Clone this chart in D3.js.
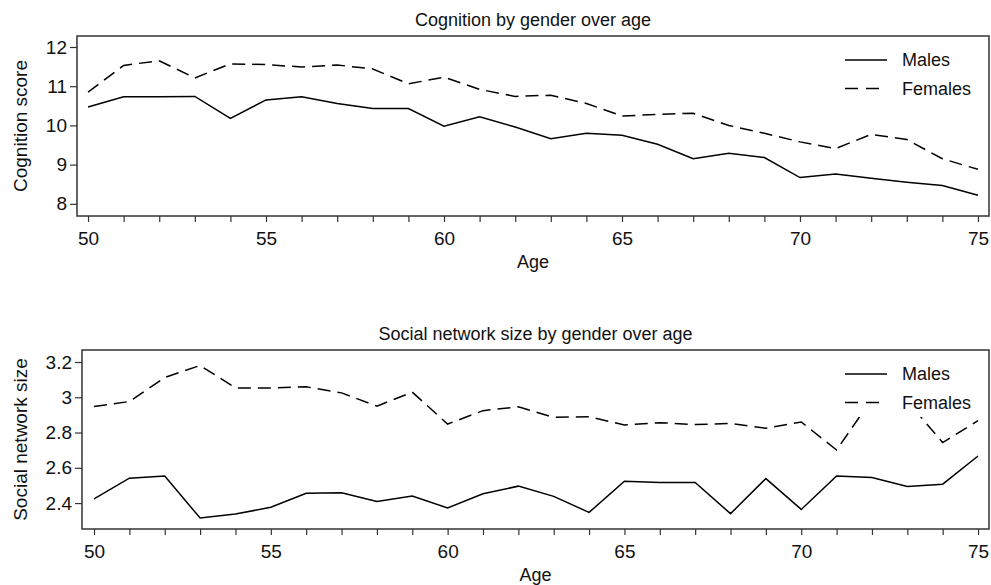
<!DOCTYPE html>
<html>
<head>
<meta charset="utf-8">
<script src="https://cdnjs.cloudflare.com/ajax/libs/d3/7.8.5/d3.min.js"></script>
<style>
  body { margin: 0; background: #fff; }
  svg { display: block; font-family: "Liberation Sans", Arial, sans-serif; }
</style>
</head>
<body>
<svg id="chart" width="991" height="585"></svg>
<script>
// ages on the x axis
var ages = d3.range(50, 76);

// cognition score by age
var cogMales = [10.47, 10.73, 10.73, 10.74, 10.18, 10.65, 10.73, 10.56, 10.43, 10.43,
                9.98, 10.22, 9.96, 9.66, 9.80, 9.75, 9.52, 9.15, 9.29, 9.18,
                8.67, 8.76, 8.65, 8.55, 8.47, 8.22];
var cogFemales = [10.85, 11.53, 11.65, 11.21, 11.57, 11.55, 11.49, 11.54, 11.44, 11.06,
                  11.23, 10.92, 10.74, 10.77, 10.56, 10.24, 10.28, 10.31, 10.00, 9.80,
                  9.58, 9.41, 9.77, 9.64, 9.15, 8.88];

// social network size by age
var netMales = [2.424, 2.541, 2.553, 2.315, 2.338, 2.376, 2.456, 2.458, 2.409, 2.440,
                2.372, 2.453, 2.496, 2.438, 2.347, 2.524, 2.517, 2.517, 2.340, 2.539,
                2.364, 2.554, 2.545, 2.494, 2.507, 2.667];
var netFemales = [2.948, 2.976, 3.112, 3.180, 3.053, 3.053, 3.059, 3.025, 2.950, 3.029,
                  2.848, 2.924, 2.946, 2.886, 2.890, 2.843, 2.856, 2.845, 2.852, 2.824,
                  2.860, 2.701, 2.990, 2.978, 2.743, 2.867];

var xTicks = [50, 55, 60, 65, 70, 75];
var cogTicks = [8, 9, 10, 11, 12];
var netTicks = [2.4, 2.6, 2.8, 3.0, 3.2];
var legendNames = ["Males", "Females"];

var svg = d3.select("#chart");

function panel(opt) {
  var g = svg.append("g");
  var x = d3.scaleLinear().domain(opt.xdomain).range([opt.left, opt.right]);
  var y = d3.scaleLinear().domain(opt.ydomain).range([opt.bottom, opt.top]);

  // title
  g.append("text")
    .attr("x", (opt.left + opt.right) / 2).attr("y", opt.top - 10)
    .attr("text-anchor", "middle").attr("font-size", 18).attr("fill", "#111")
    .text(opt.title);

  // axes
  var xAxis = g.append("g").attr("transform", "translate(0," + opt.bottom + ")")
    .call(d3.axisBottom(x).tickValues(ages).tickSize(6).tickFormat(function(d) {
      return xTicks.indexOf(d) >= 0 ? d : "";
    }));
  xAxis.selectAll("text").attr("font-size", 19).attr("dy", "1.05em").attr("fill", "#111");

  var yAxis = g.append("g").attr("transform", "translate(" + opt.left + ",0)")
    .call(d3.axisLeft(y).tickValues(opt.yticks).tickSize(7).tickFormat(d3.format("~g")));
  yAxis.selectAll("text").attr("font-size", 19).attr("fill", "#111");

  g.selectAll(".domain").remove();
  g.selectAll(".tick line").attr("stroke", "#333").attr("stroke-width", 1.2);

  // frame
  g.append("rect")
    .attr("x", opt.left).attr("y", opt.top)
    .attr("width", opt.right - opt.left).attr("height", opt.bottom - opt.top)
    .attr("fill", "none").attr("stroke", "#333").attr("stroke-width", 1.5);

  // axis labels
  g.append("text")
    .attr("x", (opt.left + opt.right) / 2).attr("y", opt.bottom + 52)
    .attr("text-anchor", "middle").attr("font-size", 18).attr("fill", "#111")
    .text("Age");
  g.append("text")
    .attr("transform", "translate(27," + (opt.top + opt.bottom) / 2 + ") rotate(-90)")
    .attr("text-anchor", "middle").attr("font-size", 19).attr("fill", "#111")
    .text(opt.ylabel);

  var line = d3.line()
    .x(function(d, i) { return x(ages[i]); })
    .y(function(d) { return y(d); });

  g.append("path").datum(opt.males).attr("d", line)
    .attr("fill", "none").attr("stroke", "#000").attr("stroke-width", 1.5);
  g.append("path").datum(opt.females).attr("d", line)
    .attr("fill", "none").attr("stroke", "#000").attr("stroke-width", 1.5)
    .attr("stroke-dasharray", "13,7");

  // legend with white background
  var lg = g.append("g").attr("transform", "translate(" + (opt.right - 155) + "," + (opt.top + 5) + ")");
  lg.append("rect").attr("x", 0).attr("y", 0).attr("width", 150).attr("height", 62)
    .attr("fill", "#fff");
  legendNames.forEach(function(name, i) {
    var ly = 19 + i * 28.5;
    lg.append("line").attr("x1", 11).attr("x2", 53).attr("y1", ly).attr("y2", ly)
      .attr("stroke", "#000").attr("stroke-width", 1.5)
      .attr("stroke-dasharray", i == 1 ? "13,8" : null);
    lg.append("text").attr("x", 68).attr("y", ly).attr("dy", "0.35em")
      .attr("font-size", 18).attr("fill", "#111").text(name);
  });
}

panel({
  left: 77, right: 989, top: 36, bottom: 216,
  xdomain: [49.69, 75.31],
  ydomain: [7.69, 12.28], yticks: cogTicks,
  title: "Cognition by gender over age", ylabel: "Cognition score",
  males: cogMales, females: cogFemales
});

panel({
  left: 82, right: 989, top: 350, bottom: 529,
  xdomain: [49.66, 75.31],
  ydomain: [2.253, 3.268], yticks: netTicks,
  title: "Social network size by gender over age", ylabel: "Social network size",
  males: netMales, females: netFemales
});
</script>
</body>
</html>
